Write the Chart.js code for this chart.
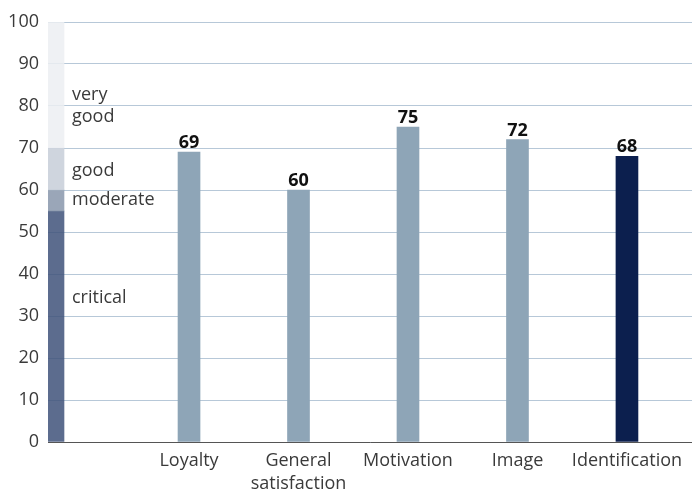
<!DOCTYPE html>
<html>
<head>
<meta charset="utf-8">
<script src="https://cdn.jsdelivr.net/npm/chart.js@4/dist/chart.umd.min.js"></script>
<style>
  html, body { margin: 0; padding: 0; background: #fff; }
  #wrap { width: 692px; height: 491px; }
</style>
</head>
<body>
<div id="wrap"><canvas id="chart"></canvas></div>
<script>
// Datos del gráfico
const categories = ["Loyalty", "General satisfaction", "Motivation", "Image", "Identification"];
const values = [69, 60, 75, 72, 68];
const highlighted = "Identification";

// Zonas de valoración (columna de la izquierda)
const zoneNames = ["critical", "moderate", "good", "very good"];
const zoneFrom = [0, 55, 60, 70];
const zoneTo = [55, 60, 70, 100];
const zoneLabelAt = [34.2, 57.6, 64.5, 80];

const yTicks = [0, 10, 20, 30, 40, 50, 60, 70, 80, 90, 100];

const FONT = "'Open Sans', 'Noto Sans', sans-serif";
const TEXT = "#3a3a3a";
const zoneColors = ["rgba(64,82,122,0.85)", "rgba(136,150,172,0.85)", "rgba(199,206,216,0.85)", "rgba(236,239,242,0.85)"];

const X_MIN = -0.288, X_MAX = 5.594; // eje x lineal: las barras quedan en 1..5
const BAND_X = -0.215;

// Etiquetas de valor sobre las barras y nombres de zonas
const textPlugin = {
    id: "texts",
    afterDatasetsDraw(chart) {
        const ctx = chart.ctx;
        const y = chart.scales.y;
        const x = chart.scales.x;
        ctx.save();
        ctx.fillStyle = "#111";
        ctx.font = "bold 18px " + FONT;
        ctx.textAlign = "center";
        ctx.textBaseline = "alphabetic";
        values.forEach((v, i) => {
            ctx.fillText(String(v), x.getPixelForValue(i + 1), y.getPixelForValue(v) - 4);
        });
        ctx.font = "18px " + FONT;
        ctx.fillStyle = TEXT;
        ctx.textAlign = "left";
        ctx.textBaseline = "middle";
        const left = chart.chartArea.left + 24;
        zoneNames.forEach((name, i) => {
            const lines = name === "very good" ? ["very", "good"] : [name];
            const cy = y.getPixelForValue(zoneLabelAt[i]);
            lines.forEach((ln, k) => {
                ctx.fillText(ln, left, cy + (k - (lines.length - 1) / 2) * 22);
            });
        });
        ctx.restore();
    }
};

new Chart(document.getElementById("chart"), {
    type: "bar",
    data: {
        datasets: [
            {
                data: categories.map((c, i) => ({ x: i + 1, y: values[i] })),
                backgroundColor: categories.map(c => c === highlighted ? "#0c1f4e" : "#8ea5b7"),
                barThickness: 22,
                grouped: false,
                order: 1
            },
            {
                data: zoneFrom.map((f, i) => ({ x: BAND_X, y: [f, zoneTo[i]] })),
                backgroundColor: zoneColors,
                barThickness: 16,
                grouped: false,
                order: 2
            }
        ]
    },
    options: {
        responsive: true,
        maintainAspectRatio: false,
        animation: false,
        layout: { padding: { top: 22, right: 0, left: 0, bottom: 0 } },
        plugins: { legend: { display: false }, tooltip: { enabled: false } },
        scales: {
            x: {
                type: "linear",
                offset: false,
                min: X_MIN,
                max: X_MAX,
                afterBuildTicks(scale) {
                    scale.ticks = categories.map((c, i) => ({ value: i + 1 }));
                },
                afterFit(scale) { scale.height = 49; },
                grid: { display: false, drawTicks: false },
                border: { display: true, color: "#555", width: 1 },
                ticks: {
                    autoSkip: false,
                    maxRotation: 0,
                    padding: 7,
                    color: TEXT,
                    font: { family: FONT, size: 18, lineHeight: 1.28 },
                    callback: (v) => {
                        const c = categories[v - 1];
                        return c ? c.split(" ") : "";
                    }
                }
            },
            y: {
                min: 0,
                max: 100,
                afterBuildTicks(scale) {
                    scale.ticks = yTicks.map(v => ({ value: v }));
                },
                afterFit(scale) { scale.width = 48; },
                grid: { color: "#b7c8d8", lineWidth: 1, drawTicks: false },
                border: { display: false },
                ticks: {
                    padding: 9,
                    color: TEXT,
                    font: { family: FONT, size: 18 }
                }
            }
        }
    },
    plugins: [textPlugin]
});
</script>
</body>
</html>
